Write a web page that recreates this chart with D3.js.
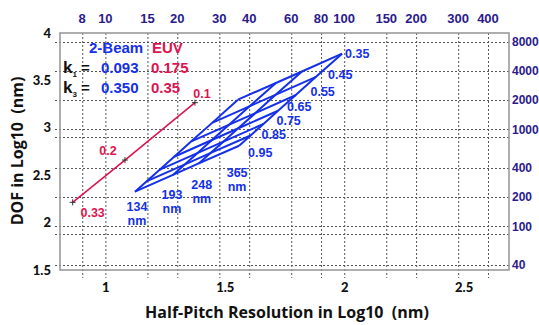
<!DOCTYPE html>
<html>
<head>
<meta charset="utf-8">
<script src="https://cdn.jsdelivr.net/npm/d3@7"></script>
<style>
  body { margin: 0; background: #fff; }
  svg { display: block; }
</style>
</head>
<body>
<div class="canvas"></div>
<script>
// data
const wavelengths = [134, 193, 248, 365];
const naValues = [0.35, 0.45, 0.55, 0.65, 0.75, 0.85, 0.95];

// log10 half-pitch, one row per wavelength, one column per NA
const hpLog = [
  [1.555, 1.447, 1.36, 1.288, 1.226, 1.172, 1.124],
  [1.714, 1.605, 1.519, 1.446, 1.385, 1.331, 1.283],
  [1.823, 1.714, 1.628, 1.555, 1.494, 1.439, 1.391],
  [1.991, 1.882, 1.796, 1.723, 1.662, 1.608, 1.56]
];
// log10 DOF, same layout
const dofLog = [
  [3.297, 3.052, 2.857, 2.695, 2.556, 2.434, 2.326],
  [3.473, 3.229, 3.034, 2.871, 2.732, 2.611, 2.503],
  [3.594, 3.35, 3.155, 2.993, 2.854, 2.732, 2.624],
  [3.782, 3.538, 3.343, 3.18, 3.041, 2.919, 2.811]
];

const euvNA = ["0.33", "0.2", "0.1"];
const euvHp = [0.863, 1.082, 1.375];
const euvDof = [2.214, 2.66, 3.265];

const xTicks = [1, 1.5, 2, 2.5];
const yTicks = [1.5, 2, 2.5, 3, 3.5, 4];
const topTicks = [8, 10, 15, 20, 30, 40, 60, 80, 100, 150, 200, 300, 400];
const rightTicks = [8000, 4000, 2000, 1000, 400, 200, 100, 40];
const extraGrid = [1.88, 2.9];

// layout
const width = 539, height = 325;
const frame = { left: 60, right: 509, top: 33, bottom: 270 };
const blue = "#1430e8";
const red = "#dc1450";
const navy = "#2a1a8c";

const svg = d3.select(".canvas").append("svg")
  .attr("width", width)
  .attr("height", height);

svg.append("rect").attr("width", width).attr("height", height).attr("fill", "#fff");

// scales
const x = d3.scaleLinear().domain([0.81, 2.69]).range([frame.left, frame.right]);
const y = d3.scaleLinear().domain([1.5, 4]).range([frame.bottom, frame.top]);
const yRight = d3.scaleLog().domain([40, 8000]).range([265, 41.7]);

// grid
const grid = svg.append("g")
  .attr("stroke", "#555")
  .attr("stroke-width", 1)
  .attr("stroke-dasharray", "2,2");

grid.selectAll(".vgrid").data(topTicks).enter().append("line")
  .attr("x1", d => x(Math.log10(d)) + 0.5)
  .attr("x2", d => x(Math.log10(d)) + 0.5)
  .attr("y1", frame.top)
  .attr("y2", frame.bottom + 8);

grid.selectAll(".hgrid").data(rightTicks).enter().append("line")
  .attr("x1", frame.left - 5)
  .attr("x2", frame.right)
  .attr("y1", d => Math.round(yRight(d)) + 0.5)
  .attr("y2", d => Math.round(yRight(d)) + 0.5);

grid.selectAll(".egrid").data(extraGrid).enter().append("line")
  .attr("x1", frame.left - 5)
  .attr("x2", frame.right)
  .attr("y1", d => Math.round(y(d)) + 0.5)
  .attr("y2", d => Math.round(y(d)) + 0.5);

// frame
svg.append("rect")
  .attr("x", frame.left)
  .attr("y", frame.top)
  .attr("width", frame.right - frame.left)
  .attr("height", frame.bottom - frame.top)
  .attr("fill", "none")
  .attr("stroke", "#9a9a9a")
  .attr("stroke-width", 1.6);

// axes
const xAxis = d3.axisBottom(x).tickValues(xTicks).tickSize(0).tickPadding(13)
  .tickFormat(d3.format("~g"));
const yAxis = d3.axisLeft(y).tickValues(yTicks).tickSize(0).tickPadding(9)
  .tickFormat(d3.format("~g"));

const xAxisGroup = svg.append("g")
  .attr("transform", `translate(0, ${frame.bottom})`)
  .call(xAxis);
const yAxisGroup = svg.append("g")
  .attr("transform", `translate(${frame.left}, 0)`)
  .call(yAxis);

[xAxisGroup, yAxisGroup].forEach(g => {
  g.select(".domain").remove();
  g.selectAll("text")
    .attr("font-family", "Lato, sans-serif")
    .attr("font-weight", 900)
    .attr("font-size", 13)
    .attr("fill", "#111");
});

// top axis (nm)
svg.append("g").selectAll("text").data(topTicks).enter().append("text")
  .attr("x", d => x(Math.log10(d)))
  .attr("y", 18)
  .attr("dy", "0.35em")
  .attr("text-anchor", "middle")
  .attr("font-family", "Liberation Sans, Arial, sans-serif")
  .attr("font-weight", "bold")
  .attr("font-size", 13)
  .attr("fill", navy)
  .text(d => d);

// right axis (nm)
svg.append("g").selectAll("text").data(rightTicks).enter().append("text")
  .attr("x", frame.right + 3)
  .attr("y", d => yRight(d))
  .attr("dy", "0.35em")
  .attr("font-family", "Liberation Sans, Arial, sans-serif")
  .attr("font-weight", "bold")
  .attr("font-size", 12)
  .attr("fill", navy)
  .text(d => d);

// axis titles
svg.append("text")
  .attr("x", 287)
  .attr("y", 318)
  .attr("text-anchor", "middle")
  .attr("font-family", "Open Sans, sans-serif")
  .attr("font-weight", 700)
  .attr("font-size", 16)
  .attr("fill", "#111")
  .style("white-space", "pre")
  .text("Half-Pitch Resolution in Log10  (nm)");

svg.append("text")
  .attr("transform", "translate(23, 151) rotate(-90)")
  .attr("text-anchor", "middle")
  .attr("font-family", "Open Sans, sans-serif")
  .attr("font-weight", 700)
  .attr("font-size", 16)
  .attr("fill", "#111")
  .style("white-space", "pre")
  .text("DOF in Log10  (nm)");

// mesh lines
const line = d3.line().x(d => x(d[0])).y(d => y(d[1]));
const mesh = svg.append("g")
  .attr("fill", "none")
  .attr("stroke", blue)
  .attr("stroke-width", 2)
  .attr("stroke-linejoin", "round");

// one line per wavelength across NA
wavelengths.forEach((w, i) => {
  mesh.append("path").attr("d", line(naValues.map((na, j) => [hpLog[i][j], dofLog[i][j]])));
});
// one line per NA across wavelengths
naValues.forEach((na, j) => {
  mesh.append("path").attr("d", line(wavelengths.map((w, i) => [hpLog[i][j], dofLog[i][j]])));
});

const labelFont = g => g
  .attr("font-family", "Liberation Sans, Arial, sans-serif")
  .attr("font-weight", "bold")
  .attr("font-size", 12.5);

// NA labels next to the 365 nm line
const naOffsets = [[3, 0], [12, -2], [15, -4], [9, -4], [13, -3], [11, -1], [9, 7]];
svg.append("g").call(labelFont).attr("fill", blue)
  .selectAll("text").data(naValues).enter().append("text")
  .attr("x", (d, j) => x(hpLog[3][j]) + naOffsets[j][0])
  .attr("y", (d, j) => y(dofLog[3][j]) + naOffsets[j][1])
  .attr("dy", "0.35em")
  .text(d => d);

// wavelength labels under the NA 0.95 end
const wlOffsets = [[2, 15], [-1, 20], [3, 21], [-2, 27]];
const wl = svg.append("g").call(labelFont).attr("fill", blue).attr("text-anchor", "middle")
  .selectAll("text").data(wavelengths).enter().append("text")
  .attr("x", (d, i) => x(hpLog[i][6]) + wlOffsets[i][0])
  .attr("y", (d, i) => y(dofLog[i][6]) + wlOffsets[i][1])
  .attr("dy", "0.35em");
wl.append("tspan").text(d => d);
wl.append("tspan")
  .attr("x", (d, i) => x(hpLog[i][6]) + wlOffsets[i][0])
  .attr("dy", 14)
  .text("nm");

// EUV line
const euvPts = euvHp.map((h, i) => [h, euvDof[i]]);
svg.append("path")
  .attr("d", line(euvPts))
  .attr("fill", "none")
  .attr("stroke", red)
  .attr("stroke-width", 1.6);

svg.append("g").selectAll("path").data(euvPts).enter().append("path")
  .attr("transform", d => `translate(${x(d[0])}, ${y(d[1])})`)
  .attr("d", "M-3,0H3M0,-3V3")
  .attr("stroke", "#333")
  .attr("stroke-width", 1);

const euvOffsets = [[20, 10], [-17, -9], [7, -9]];
svg.append("g").call(labelFont).attr("fill", red).attr("text-anchor", "middle")
  .selectAll("text").data(euvNA).enter().append("text")
  .attr("x", (d, i) => x(euvHp[i]) + euvOffsets[i][0])
  .attr("y", (d, i) => y(euvDof[i]) + euvOffsets[i][1])
  .attr("dy", "0.35em")
  .text(d => d);

// legend block
const legend = svg.append("g")
  .attr("font-family", "Liberation Sans, Arial, sans-serif")
  .attr("font-weight", "bold")
  .attr("font-size", 15);

legend.append("text").attr("x", 89).attr("y", 48).attr("dy", "0.35em").attr("fill", blue).text("2-Beam");
legend.append("text").attr("x", 152).attr("y", 48).attr("dy", "0.35em").attr("fill", red).text("EUV");

const kRows = [
  { sub: "1", beam: "0.093", euv: "0.175", y: 68 },
  { sub: "3", beam: "0.350", euv: "0.35", y: 88 }
];
kRows.forEach(r => {
  const k = legend.append("text").attr("x", 63).attr("y", r.y).attr("dy", "0.35em").attr("fill", "#111");
  k.append("tspan").attr("font-size", 17).text("k");
  k.append("tspan").attr("font-size", 8).attr("dy", 4).text(r.sub);
  k.append("tspan").attr("dy", -4).text(" =");
  legend.append("text").attr("x", 101).attr("y", r.y).attr("dy", "0.35em").attr("fill", blue).text(r.beam);
  legend.append("text").attr("x", 151).attr("y", r.y).attr("dy", "0.35em").attr("fill", red).text(r.euv);
});
</script>
</body>
</html>
